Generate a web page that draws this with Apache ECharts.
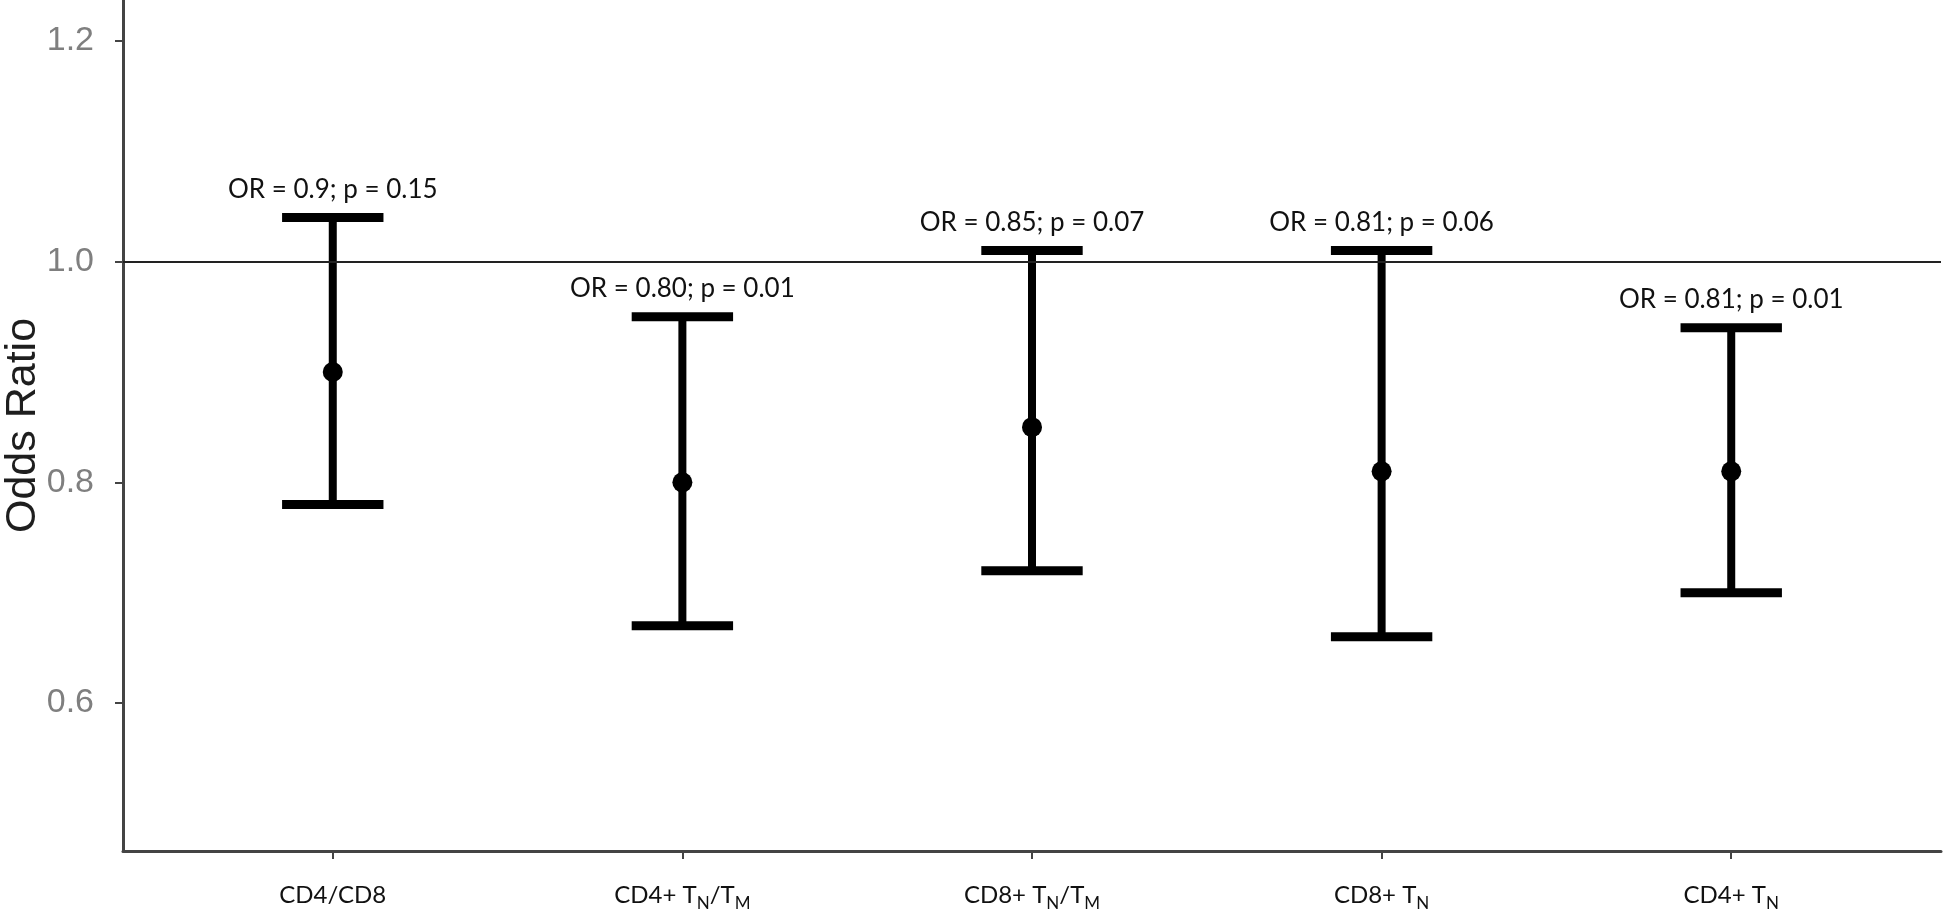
<!DOCTYPE html>
<html>
<head>
<meta charset="utf-8">
<script src="https://cdn.jsdelivr.net/npm/echarts@6/dist/echarts.min.js"></script>
<style>
  html, body { margin: 0; padding: 0; background: #fff; }
  #chart { width: 1944px; height: 921px; }
</style>
</head>
<body>
<div id="chart"></div>
<script>
// categories (rich text, {sub|..} = subscript)
var categories = ['CD4/CD8', 'CD4+ T{sub|N}/T{sub|M}', 'CD8+ T{sub|N}/T{sub|M}', 'CD8+ T{sub|N}', 'CD4+ T{sub|N}'];
var oddsRatio = [0.90, 0.80, 0.85, 0.81, 0.81];
var lowerCI = [0.78, 0.67, 0.72, 0.66, 0.70];
var upperCI = [1.04, 0.95, 1.01, 1.01, 0.94];
var annotations = ['OR = 0.9; p = 0.15', 'OR = 0.80; p = 0.01', 'OR = 0.85; p = 0.07', 'OR = 0.81; p = 0.06', 'OR = 0.81; p = 0.01'];
var yTicks = [0.6, 0.8, 1.0, 1.2];

var xIdx = categories.map(function (c, i) { return i; });

var chartDom = document.getElementById('chart');
var myChart = echarts.init(chartDom);
var option;

var capWidth = 0.29;
var txtFont = 'Lato, "Open Sans", sans-serif';

option = {
    backgroundColor: '#fff',
    animation: false,
    grid: { left: 123, right: 3, top: 0, bottom: 70, outerBoundsMode: 'none', containLabel: false },
    xAxis: {
        type: 'value',
        min: -0.6,
        max: 4.6,
        splitLine: { show: false },
        axisLine: { show: true, onZero: false, lineStyle: { color: '#444', width: 3 } },
        axisTick: {
            show: true,
            customValues: xIdx,
            length: 8,
            lineStyle: { color: '#444', width: 2 }
        },
        axisLabel: {
            customValues: xIdx,
            margin: 27,
            fontFamily: txtFont,
            fontSize: 24,
            lineHeight: 34,
            color: '#111',
            formatter: function (v) { return categories[Math.round(v)]; },
            rich: {
                sub: { fontFamily: txtFont, fontSize: 17, color: '#111', verticalAlign: 'bottom' }
            }
        }
    },
    yAxis: {
        type: 'value',
        min: 0.466,
        max: 1.237,
        name: 'Odds Ratio',
        nameLocation: 'middle',
        nameGap: 78,
        nameMoveOverlap: false,
        nameTextStyle: { fontFamily: 'Liberation Sans, Arial, sans-serif', fontSize: 43, color: '#1e1e1e' },
        splitLine: { show: false },
        axisLine: { show: true, onZero: false, lineStyle: { color: '#444', width: 3 } },
        axisTick: {
            show: true,
            customValues: yTicks,
            length: 8,
            lineStyle: { color: '#444', width: 2 }
        },
        axisLabel: {
            customValues: yTicks,
            margin: 29,
            fontFamily: 'Liberation Sans, Arial, sans-serif',
            fontSize: 34,
            color: '#7f7f7f',
            formatter: function (v) { return v.toFixed(1); }
        }
    },
    series: [
        {
            type: 'custom',
            name: 'CI',
            data: xIdx.map(function (i) { return [i, lowerCI[i], upperCI[i]]; }),
            renderItem: function (params, api) {
                var x = api.value(0);
                var lo = api.coord([x, api.value(1)]);
                var hi = api.coord([x, api.value(2)]);
                var half = api.size([capWidth, 0])[0] / 2;
                return {
                    type: 'group',
                    children: [
                        { type: 'line', shape: { x1: lo[0], y1: lo[1], x2: hi[0], y2: hi[1] }, style: { stroke: '#000', lineWidth: 8 } },
                        { type: 'line', shape: { x1: lo[0] - half, y1: lo[1], x2: lo[0] + half, y2: lo[1] }, style: { stroke: '#000', lineWidth: 9 } },
                        { type: 'line', shape: { x1: hi[0] - half, y1: hi[1], x2: hi[0] + half, y2: hi[1] }, style: { stroke: '#000', lineWidth: 9 } },
                        {
                            type: 'text',
                            style: {
                                text: annotations[params.dataIndex],
                                x: hi[0],
                                y: hi[1] - 28,
                                textAlign: 'center',
                                textVerticalAlign: 'middle',
                                fontFamily: txtFont,
                                fontSize: 26,
                                fill: '#111'
                            }
                        }
                    ]
                };
            }
        },
        {
            type: 'scatter',
            name: 'OR',
            data: xIdx.map(function (i) { return [i, oddsRatio[i]]; }),
            symbol: 'circle',
            symbolSize: 20,
            itemStyle: { color: '#000', opacity: 1 },
            markLine: {
                silent: true,
                symbol: ['none', 'none'],
                label: { show: false },
                lineStyle: { color: '#222', width: 2, type: 'solid' },
                data: [{ yAxis: 1 }]
            }
        }
    ]
};

option && myChart.setOption(option);
window.addEventListener("resize", function () {
    myChart.resize();
});
</script>
</body>
</html>
